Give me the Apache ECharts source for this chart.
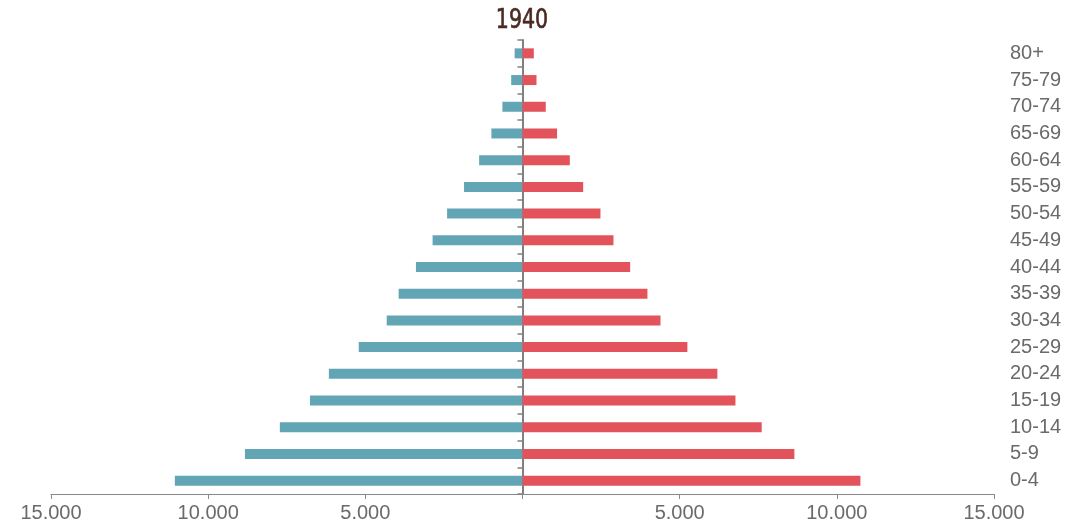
<!DOCTYPE html>
<html>
<head>
<meta charset="utf-8">
<title>1940</title>
<script src="https://cdn.jsdelivr.net/npm/echarts@6/dist/echarts.min.js"></script>
<style>
  html, body { margin: 0; padding: 0; background: #fff; }
  #chart { width: 1084px; height: 529px; }
</style>
</head>
<body>
<div id="chart"></div>
<script>
// Age groups, bottom to top
const ageGroups = ['0-4', '5-9', '10-14', '15-19', '20-24', '25-29', '30-34', '35-39',
  '40-44', '45-49', '50-54', '55-59', '60-64', '65-69', '70-74', '75-79', '80+'];

// Population per age group (left side, drawn leftwards)
const leftValues = [11060, 8830, 7720, 6760, 6160, 5210, 4320, 3940,
  3390, 2860, 2400, 1860, 1380, 990, 640, 360, 250];

// Population per age group (right side)
const rightValues = [10750, 8650, 7610, 6775, 6200, 5245, 4390, 3975,
  3425, 2895, 2480, 1930, 1505, 1100, 740, 445, 360];

const yearTitle = '1940';
const axisMin = -15000;
const axisMax = 15000;
const axisStep = 5000;

const chart = echarts.init(document.getElementById('chart'));

function formatThousands(v) {
  const n = Math.abs(Math.round(v));
  if (n === 0) return '';
  return String(n).replace(/\B(?=(\d{3})+(?!\d))/g, '.');
}

const labelFont = '"Liberation Sans", Arial, Helvetica, sans-serif';

chart.setOption({
  animation: false,
  backgroundColor: '#ffffff',
  graphic: [{
    type: 'text',
    x: 522,
    y: 21,
    scaleX: 0.88,
    style: {
      text: yearTitle,
      fill: '#4a2a22',
      stroke: '#4a2a22',
      lineWidth: 0.6,
      font: 'normal 26px "DejaVu Sans Condensed", "DejaVu Sans", sans-serif',
      align: 'center',
      verticalAlign: 'middle'
    }
  }],
  grid: { left: 51, right: 90, top: 40, bottom: 35, containLabel: false },
  xAxis: {
    type: 'value',
    min: axisMin,
    max: axisMax,
    interval: axisStep,
    splitLine: { show: false },
    axisLine: { show: true, lineStyle: { color: '#8a8a8a', width: 1 } },
    axisTick: { show: true, length: 5, lineStyle: { color: '#8a8a8a' } },
    axisLabel: {
      margin: 9,
      color: '#6a6a6a',
      fontSize: 20,
      fontFamily: labelFont
      , formatter: formatThousands
    }
  },
  yAxis: [{
    type: 'category',
    data: ageGroups,
    position: 'left',
    axisLine: { show: true, onZero: true, lineStyle: { color: '#808080', width: 2 } },
    axisTick: { show: true, length: 5, lineStyle: { color: '#808080', width: 1.5 } },
    axisLabel: { show: false },
    splitLine: { show: false }
  }, {
    type: 'category',
    data: ageGroups,
    position: 'right',
    axisLine: { show: false, onZero: false },
    axisTick: { show: false },
    axisLabel: {
      show: true,
      margin: 16,
      color: '#6a6a6a',
      fontSize: 20,
      fontFamily: labelFont
    },
    splitLine: { show: false }
  }],
  series: [{
    name: 'left',
    type: 'bar',
    yAxisIndex: 0,
    data: leftValues.map(v => -v),
    barWidth: 10,
    barGap: '-100%',
    itemStyle: { color: '#62a6b6' },
    z: 1
  }, {
    name: 'right',
    type: 'bar',
    yAxisIndex: 0,
    data: rightValues,
    barWidth: 10,
    barGap: '-100%',
    itemStyle: { color: '#e3535c' },
    z: 1
  }]
});
</script>
</body>
</html>
